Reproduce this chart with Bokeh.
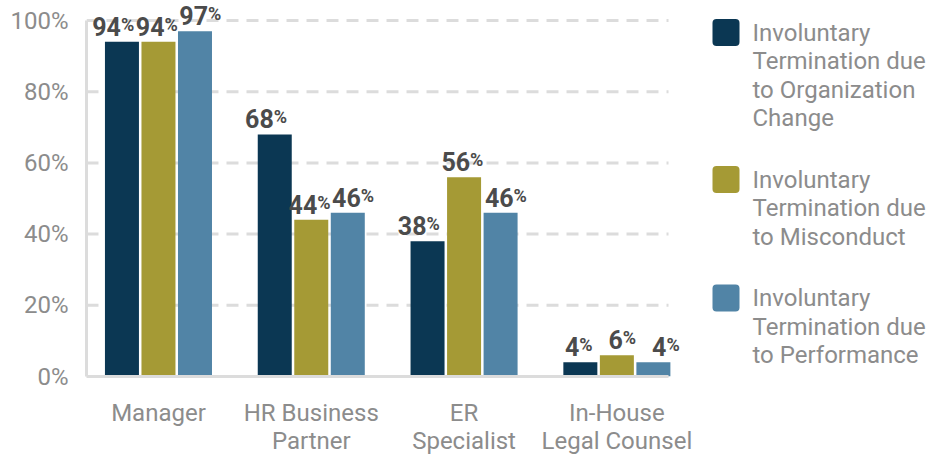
from bokeh.plotting import figure
from bokeh.models import FixedTicker, Range1d, ColumnDataSource
from bokeh.core.properties import value
from bokeh.embed import file_html
from bokeh.resources import INLINE

# ---- data ----
categories = ["Manager", "HR Business\nPartner", "ER\nSpecialist", "In-House\nLegal Counsel"]
series_names = [
    "Involuntary\nTermination due\nto Organization\nChange",
    "Involuntary\nTermination due\nto Misconduct",
    "Involuntary\nTermination due\nto Performance",
]
org_change = [94, 68, 38, 4]
misconduct = [94, 44, 56, 6]
performance = [97, 46, 46, 4]
y_ticks = [0, 20, 40, 60, 80, 100]

# ---- style ----
colors = ["#0b3753", "#a59a35", "#5184a6"]
FONT = "Roboto"
GRAY = "#8c8c8c"
LINE = "#dcdcdc"
LABEL = "#4b4b4b"

series = [org_change, misconduct, performance]
n = len(categories)
pitch = 0.239          # dodge between bars (category units)
bar_w = 0.2225
label_nudge = [-7, 0, 7]  # px, keeps neighbouring value labels apart

W, H = 946, 458
LEFT, BOTTOM = 86, 82
FW, FH = W - LEFT, H - BOTTOM
px_per_cat = 152.8
x0, x1 = -0.471, 3.338            # extent of the bar area (category units)
px_per_pct = 3.56
y_end = FH / px_per_pct

p = figure(width=W, height=H, output_backend="svg", toolbar_location=None,
           x_range=Range1d(x0, x0 + FW / px_per_cat), y_range=Range1d(0, y_end),
           min_border_left=LEFT, min_border_right=0, min_border_top=0,
           min_border_bottom=BOTTOM)
p.outline_line_color = None
p.xgrid.visible = False
p.ygrid.visible = False

# dashed horizontal gridlines across the bar area only
p.segment(x0=[x0] * len(y_ticks), x1=[x1] * len(y_ticks), y0=y_ticks, y1=y_ticks,
          line_color=LINE, line_width=3, line_dash="12 8")

xs = list(range(n))
for j, vals in enumerate(series):
    off = (j - 1) * pitch
    src = ColumnDataSource(dict(
        x=[i + off for i in xs], top=vals,
        num=[str(v) for v in vals], pct=["%" for _ in vals]))
    p.vbar(x="x", top="top", bottom=0, width=bar_w, source=src,
           fill_color=colors[j], line_color=None)
    p.text(x="x", y="top", text="num", source=src,
           text_font=value(FONT), text_font_style="bold", text_font_size="25px",
           text_color=LABEL, text_align="right", text_baseline="bottom",
           x_offset=6 + label_nudge[j], y_offset=-6)
    p.text(x="x", y="top", text="pct", source=src,
           text_font=value(FONT), text_font_style="bold", text_font_size="18px",
           text_color=LABEL, text_align="left", text_baseline="bottom",
           x_offset=6 + label_nudge[j], y_offset=-7)

# axes
p.xaxis.ticker = FixedTicker(ticks=xs)
p.xaxis.major_label_overrides = {i: c for i, c in enumerate(categories)}
p.xaxis.bounds = (x0, x1)
p.yaxis.ticker = FixedTicker(ticks=y_ticks)
p.yaxis.major_label_overrides = {t: f"{t}%" for t in y_ticks}
p.yaxis.bounds = (0, 100)
for ax in (p.xaxis, p.yaxis):
    ax.axis_line_color = LINE
    ax.axis_line_width = 3
    ax.major_tick_line_color = None
    ax.minor_tick_line_color = None
    ax.major_label_text_font = FONT
    ax.major_label_text_font_size = "24px"
    ax.major_label_text_color = GRAY
p.xaxis.major_label_standoff = 16
p.xaxis.major_label_text_line_height = 1.03
p.yaxis.major_label_standoff = 12

# ---- legend, drawn with pixel ranges of the frame ----
p.extra_x_ranges["lx"] = Range1d(LEFT, W)
p.extra_y_ranges["ly"] = Range1d(FH, 0)
line_h = 28.5
item_gap = 33
y = 32
for j, name in enumerate(series_names):
    lines = name.split("\n")
    p.quad(left=712, right=739, top=y - 13.5, bottom=y + 13.5,
           fill_color=colors[j], line_color=None, border_radius=4,
           x_range_name="lx", y_range_name="ly")
    p.text(x=[752] * len(lines), y=[y + k * line_h for k in range(len(lines))],
           text=lines, text_font=value(FONT), text_font_size="24px",
           text_color=GRAY, text_baseline="middle", text_align="left",
           x_range_name="lx", y_range_name="ly")
    y += len(lines) * line_h + item_gap

open("out.html", "w").write(file_html(p, INLINE))
